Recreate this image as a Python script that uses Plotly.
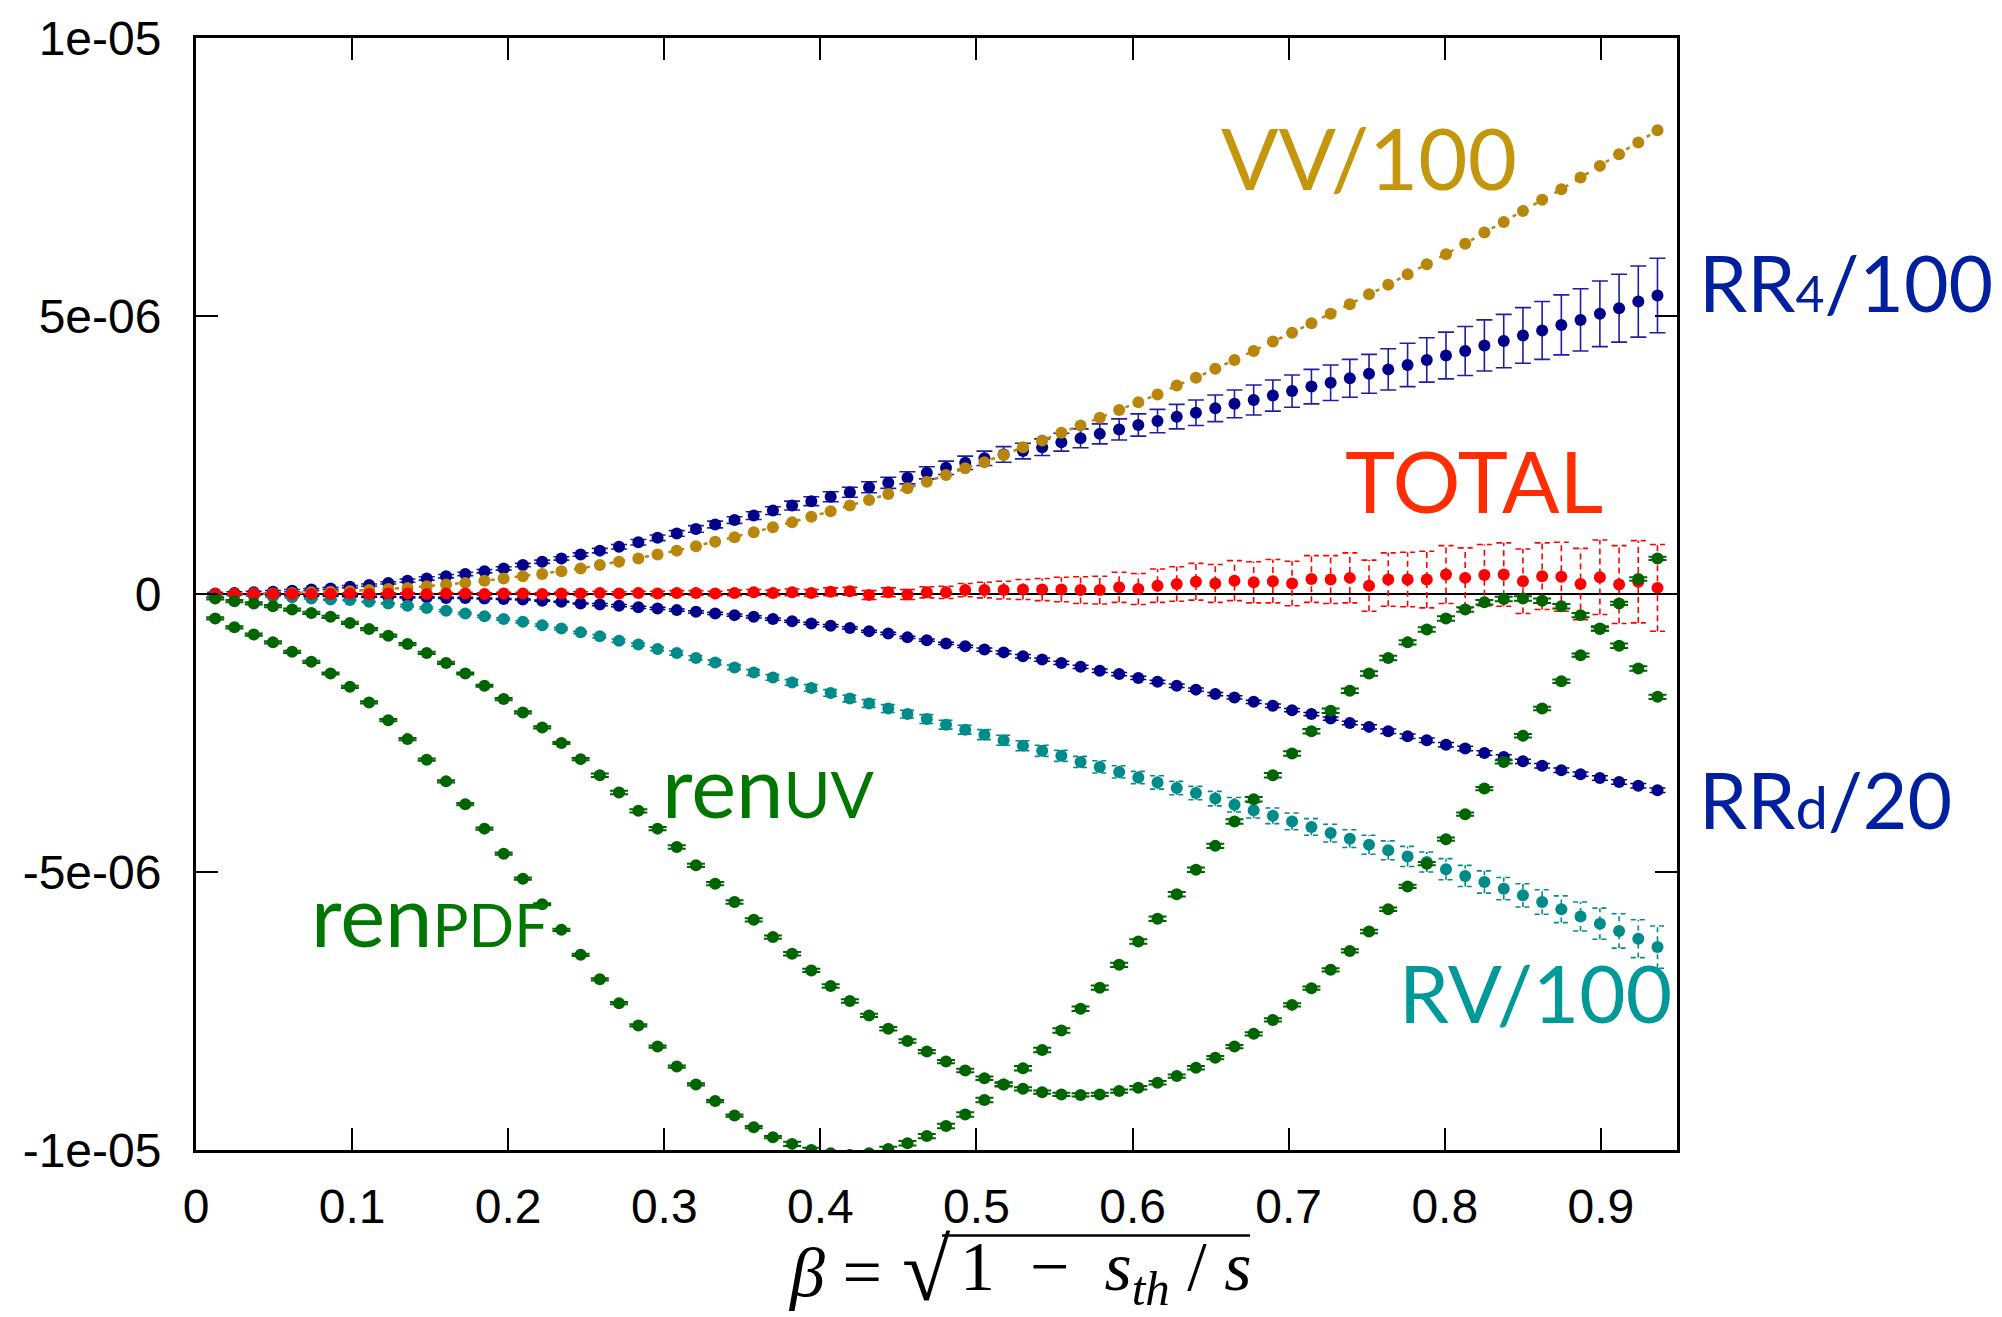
import plotly.graph_objects as go

# beta grid (x values of the points)
beta = [0.0123, 0.0246, 0.0370, 0.0493, 0.0616, 0.0739, 0.0862, 0.0986, 0.1109, 0.1232,
        0.1355, 0.1478, 0.1602, 0.1725, 0.1848, 0.1971, 0.2094, 0.2218, 0.2341, 0.2464,
        0.2587, 0.2710, 0.2834, 0.2957, 0.3080, 0.3203, 0.3326, 0.3450, 0.3573, 0.3696,
        0.3819, 0.3942, 0.4066, 0.4189, 0.4312, 0.4435, 0.4558, 0.4682, 0.4805, 0.4928,
        0.5051, 0.5174, 0.5298, 0.5421, 0.5544, 0.5667, 0.5790, 0.5914, 0.6037, 0.6160,
        0.6283, 0.6406, 0.6530, 0.6653, 0.6776, 0.6899, 0.7022, 0.7146, 0.7269, 0.7392,
        0.7515, 0.7638, 0.7762, 0.7885, 0.8008, 0.8131, 0.8254, 0.8378, 0.8501, 0.8624,
        0.8747, 0.8870, 0.8994, 0.9117, 0.9240, 0.9363]

# all series values in units of 1e-6
vv = [0.00, 0.00, 0.01, 0.01, 0.02, 0.03, 0.04, 0.05, 0.07, 0.09,
      0.11, 0.14, 0.17, 0.20, 0.24, 0.28, 0.32, 0.36, 0.41, 0.46,
      0.52, 0.58, 0.64, 0.71, 0.78, 0.86, 0.94, 1.02, 1.11, 1.20,
      1.29, 1.39, 1.49, 1.59, 1.69, 1.80, 1.90, 2.02, 2.14, 2.26,
      2.37, 2.50, 2.64, 2.76, 2.90, 3.03, 3.17, 3.31, 3.45, 3.59,
      3.75, 3.89, 4.05, 4.21, 4.37, 4.54, 4.70, 4.87, 5.04, 5.21,
      5.39, 5.56, 5.75, 5.93, 6.11, 6.30, 6.50, 6.69, 6.89, 7.09,
      7.28, 7.49, 7.70, 7.91, 8.12, 8.34]

rr4 = [0.01, 0.02, 0.03, 0.04, 0.06, 0.08, 0.10, 0.13, 0.16, 0.20,
       0.24, 0.28, 0.32, 0.36, 0.41, 0.46, 0.52, 0.58, 0.64, 0.71,
       0.78, 0.85, 0.93, 1.01, 1.09, 1.17, 1.25, 1.33, 1.41, 1.50,
       1.59, 1.67, 1.75, 1.83, 1.92, 2.00, 2.09, 2.18, 2.27, 2.36,
       2.44, 2.51, 2.57, 2.64, 2.73, 2.80, 2.88, 2.96, 3.04, 3.11,
       3.19, 3.26, 3.34, 3.42, 3.49, 3.57, 3.65, 3.73, 3.80, 3.88,
       3.96, 4.04, 4.12, 4.21, 4.29, 4.37, 4.47, 4.55, 4.65, 4.74,
       4.84, 4.93, 5.04, 5.14, 5.26, 5.37]
rr4_err = [0.02, 0.02, 0.02, 0.02, 0.02, 0.02, 0.02, 0.02, 0.02, 0.02,
           0.03, 0.03, 0.03, 0.03, 0.03, 0.03, 0.03, 0.03, 0.03, 0.03,
           0.04, 0.04, 0.05, 0.05, 0.05, 0.06, 0.06, 0.06, 0.07, 0.07,
           0.08, 0.08, 0.09, 0.09, 0.10, 0.10, 0.11, 0.11, 0.12, 0.12,
           0.13, 0.14, 0.14, 0.15, 0.16, 0.17, 0.18, 0.19, 0.20, 0.21,
           0.22, 0.23, 0.24, 0.25, 0.27, 0.28, 0.29, 0.31, 0.32, 0.34,
           0.35, 0.37, 0.39, 0.40, 0.42, 0.44, 0.46, 0.48, 0.50, 0.52,
           0.54, 0.56, 0.59, 0.61, 0.64, 0.67]

total = [0.00, 0.00, 0.00, 0.00, 0.00, 0.00, 0.00, 0.01, 0.00, 0.01,
         0.01, 0.00, 0.01, 0.01, 0.00, 0.01, 0.01, 0.00, 0.01, 0.01,
         0.02, 0.01, 0.02, 0.01, 0.02, 0.02, 0.01, 0.02, 0.03, 0.02,
         0.03, 0.02, 0.04, 0.05, -0.02, 0.03, -0.01, 0.03, 0.03, 0.07,
         0.07, 0.07, 0.08, 0.08, 0.08, 0.07, 0.07, 0.12, 0.09, 0.15,
         0.18, 0.22, 0.19, 0.24, 0.21, 0.23, 0.19, 0.27, 0.26, 0.29,
         0.15, 0.26, 0.26, 0.26, 0.35, 0.29, 0.34, 0.35, 0.23, 0.32,
         0.31, 0.18, 0.30, 0.17, 0.22, 0.11]
total_err = [0.01, 0.01, 0.01, 0.01, 0.01, 0.01, 0.01, 0.01, 0.01, 0.01,
             0.01, 0.01, 0.01, 0.02, 0.02, 0.02, 0.02, 0.02, 0.02, 0.03,
             0.03, 0.03, 0.03, 0.04, 0.04, 0.04, 0.04, 0.05, 0.05, 0.05,
             0.06, 0.06, 0.07, 0.07, 0.08, 0.08, 0.09, 0.10, 0.11, 0.12,
             0.14, 0.16, 0.18, 0.20, 0.22, 0.24, 0.25, 0.27, 0.28, 0.30,
             0.31, 0.33, 0.34, 0.36, 0.37, 0.39, 0.40, 0.42, 0.43, 0.45,
             0.46, 0.48, 0.49, 0.51, 0.52, 0.54, 0.55, 0.57, 0.58, 0.60,
             0.62, 0.64, 0.67, 0.70, 0.74, 0.78]

rrd = [0.00, -0.01, -0.01, -0.02, -0.02, -0.03, -0.03, -0.04, -0.05, -0.05,
       -0.06, -0.06, -0.07, -0.07, -0.08, -0.09, -0.10, -0.12, -0.14, -0.17,
       -0.19, -0.21, -0.24, -0.26, -0.29, -0.32, -0.35, -0.38, -0.41, -0.45,
       -0.49, -0.53, -0.57, -0.61, -0.67, -0.71, -0.78, -0.83, -0.89, -0.94,
       -1.00, -1.05, -1.12, -1.18, -1.24, -1.31, -1.38, -1.44, -1.51, -1.58,
       -1.65, -1.72, -1.80, -1.86, -1.94, -2.01, -2.09, -2.16, -2.24, -2.32,
       -2.39, -2.47, -2.56, -2.63, -2.71, -2.78, -2.86, -2.93, -3.01, -3.09,
       -3.17, -3.24, -3.31, -3.38, -3.45, -3.53]
rrd_err = [0.01, 0.01, 0.01, 0.01, 0.01, 0.01, 0.01, 0.01, 0.01, 0.01,
           0.01, 0.01, 0.01, 0.01, 0.01, 0.01, 0.01, 0.01, 0.01, 0.01,
           0.02, 0.02, 0.02, 0.02, 0.02, 0.02, 0.02, 0.02, 0.02, 0.02,
           0.02, 0.02, 0.02, 0.02, 0.02, 0.02, 0.02, 0.02, 0.02, 0.02,
           0.03, 0.03, 0.03, 0.03, 0.03, 0.03, 0.03, 0.03, 0.03, 0.03,
           0.03, 0.03, 0.03, 0.03, 0.03, 0.03, 0.03, 0.03, 0.03, 0.03,
           0.04, 0.04, 0.04, 0.04, 0.04, 0.04, 0.04, 0.04, 0.04, 0.04,
           0.04, 0.04, 0.04, 0.04, 0.04, 0.04]

rv = [-0.01, -0.02, -0.03, -0.05, -0.06, -0.08, -0.10, -0.11, -0.14, -0.17,
      -0.21, -0.25, -0.30, -0.35, -0.40, -0.45, -0.50, -0.56, -0.62, -0.69,
      -0.76, -0.84, -0.91, -0.99, -1.06, -1.15, -1.23, -1.32, -1.41, -1.50,
      -1.59, -1.69, -1.78, -1.88, -1.97, -2.06, -2.16, -2.25, -2.35, -2.44,
      -2.53, -2.63, -2.73, -2.82, -2.91, -3.02, -3.11, -3.20, -3.30, -3.39,
      -3.49, -3.58, -3.68, -3.79, -3.89, -3.99, -4.09, -4.19, -4.30, -4.40,
      -4.51, -4.61, -4.72, -4.82, -4.95, -5.07, -5.18, -5.30, -5.42, -5.54,
      -5.67, -5.80, -5.93, -6.06, -6.20, -6.35]
rv_err = [0.01, 0.01, 0.01, 0.01, 0.01, 0.01, 0.01, 0.01, 0.01, 0.01,
          0.02, 0.02, 0.02, 0.02, 0.02, 0.02, 0.02, 0.02, 0.02, 0.02,
          0.03, 0.03, 0.03, 0.03, 0.04, 0.04, 0.04, 0.04, 0.05, 0.05,
          0.05, 0.06, 0.06, 0.06, 0.07, 0.07, 0.07, 0.08, 0.08, 0.08,
          0.09, 0.09, 0.09, 0.10, 0.10, 0.10, 0.11, 0.11, 0.11, 0.12,
          0.12, 0.12, 0.13, 0.13, 0.14, 0.14, 0.15, 0.15, 0.16, 0.16,
          0.17, 0.17, 0.18, 0.18, 0.19, 0.19, 0.20, 0.20, 0.21, 0.22,
          0.24, 0.26, 0.28, 0.31, 0.34, 0.38]

ren_uv = [-0.08, -0.13, -0.17, -0.22, -0.28, -0.34, -0.41, -0.52, -0.63, -0.75,
          -0.90, -1.06, -1.24, -1.43, -1.65, -1.89, -2.13, -2.40, -2.68, -2.97,
          -3.26, -3.57, -3.90, -4.22, -4.55, -4.88, -5.21, -5.54, -5.86, -6.17,
          -6.47, -6.77, -7.05, -7.32, -7.58, -7.82, -8.04, -8.23, -8.41, -8.57,
          -8.71, -8.82, -8.90, -8.96, -9.00, -9.01, -9.00, -8.94, -8.88, -8.79,
          -8.67, -8.52, -8.34, -8.14, -7.91, -7.66, -7.39, -7.09, -6.76, -6.42,
          -6.07, -5.67, -5.26, -4.85, -4.41, -3.96, -3.50, -3.02, -2.55, -2.06,
          -1.57, -1.10, -0.63, -0.17, 0.27, 0.64]
ren_uv_err = [0.02, 0.02, 0.02, 0.02, 0.02, 0.02, 0.02, 0.02, 0.02, 0.02,
              0.02, 0.02, 0.02, 0.02, 0.02, 0.02, 0.02, 0.02, 0.02, 0.02,
              0.03, 0.03, 0.03, 0.03, 0.03, 0.03, 0.03, 0.03, 0.03, 0.03,
              0.03, 0.03, 0.03, 0.03, 0.03, 0.03, 0.03, 0.03, 0.03, 0.03,
              0.03, 0.03, 0.03, 0.03, 0.03, 0.03, 0.03, 0.03, 0.03, 0.03,
              0.03, 0.03, 0.03, 0.03, 0.03, 0.03, 0.03, 0.03, 0.03, 0.03,
              0.03, 0.03, 0.03, 0.03, 0.03, 0.03, 0.03, 0.03, 0.03, 0.03,
              0.03, 0.03, 0.03, 0.03, 0.03, 0.03]

ren_pdf = [-0.44, -0.60, -0.73, -0.87, -1.04, -1.22, -1.43, -1.67, -1.95, -2.27,
           -2.61, -2.98, -3.37, -3.78, -4.22, -4.67, -5.12, -5.58, -6.04, -6.49,
           -6.93, -7.36, -7.76, -8.14, -8.50, -8.82, -9.12, -9.38, -9.59, -9.77,
           -9.89, -10.00, -10.06, -10.09, -10.06, -9.98, -9.88, -9.75, -9.57, -9.36,
           -9.10, -8.82, -8.53, -8.20, -7.85, -7.46, -7.08, -6.67, -6.25, -5.84,
           -5.40, -4.96, -4.53, -4.09, -3.69, -3.26, -2.87, -2.47, -2.10, -1.74,
           -1.43, -1.15, -0.87, -0.64, -0.44, -0.28, -0.15, -0.09, -0.08, -0.12,
           -0.22, -0.38, -0.62, -0.93, -1.34, -1.85]
ren_pdf_err = [0.02, 0.02, 0.02, 0.02, 0.02, 0.02, 0.02, 0.02, 0.02, 0.02,
               0.02, 0.02, 0.02, 0.02, 0.02, 0.02, 0.02, 0.02, 0.02, 0.02,
               0.02, 0.02, 0.02, 0.02, 0.02, 0.02, 0.02, 0.02, 0.02, 0.02,
               0.04, 0.04, 0.04, 0.04, 0.04, 0.04, 0.04, 0.04, 0.04, 0.04,
               0.04, 0.04, 0.04, 0.04, 0.04, 0.04, 0.04, 0.04, 0.04, 0.04,
               0.04, 0.04, 0.04, 0.04, 0.04, 0.04, 0.04, 0.04, 0.04, 0.04,
               0.04, 0.04, 0.04, 0.04, 0.04, 0.04, 0.04, 0.04, 0.04, 0.04,
               0.04, 0.04, 0.04, 0.04, 0.04, 0.04]

x_ticks = [0, 0.1, 0.2, 0.3, 0.4, 0.5, 0.6, 0.7, 0.8, 0.9]
x_tick_text = ["0", "0.1", "0.2", "0.3", "0.4", "0.5", "0.6", "0.7", "0.8", "0.9"]
y_ticks = [-1e-05, -5e-06, 0, 5e-06, 1e-05]
y_tick_text = ["-1e-05", "-5e-06", "0", "5e-06", "1e-05"]

E = 1e-6


def sc(v):
    return [a * E for a in v]


def dashed_bars(x, y, e, cap):
    xs, ys = [], []
    for xi, yi, ei in zip(x, y, e):
        lo, hi = (yi - ei) * E, (yi + ei) * E
        xs += [xi, xi, None, xi - cap, xi + cap, None, xi - cap, xi + cap, None]
        ys += [lo, hi, None, lo, lo, None, hi, hi, None]
    return xs, ys


GOLD = "#B8860B"
NAVY = "#00008B"
RED = "#FF0000"
TEAL = "#008B8B"
GREEN = "#006400"
MS = 12

fig = go.Figure()

# RR4/100
fig.add_trace(go.Scatter(
    x=beta, y=sc(rr4), mode="markers",
    marker=dict(color=NAVY, size=MS),
    error_y=dict(type="data", array=sc(rr4_err), color="#1E1EA8", thickness=1.6, width=8),
    showlegend=False))

# VV/100
fig.add_trace(go.Scatter(
    x=beta, y=sc(vv), mode="lines+markers",
    line=dict(color=GOLD, width=2.5, dash="4px,8px"),
    marker=dict(color=GOLD, size=MS),
    showlegend=False))

# RRd/20
fig.add_trace(go.Scatter(
    x=beta, y=sc(rrd), mode="markers",
    marker=dict(color=NAVY, size=MS),
    error_y=dict(type="data", array=sc(rrd_err), color=NAVY, thickness=1.5, width=8),
    showlegend=False))

# RV/100 (dashed error bars)
bx, by = dashed_bars(beta, rv, rv_err, 0.0048)
fig.add_trace(go.Scatter(x=bx, y=by, mode="lines",
                         line=dict(color=TEAL, width=1.6, dash="5px,4px"),
                         hoverinfo="skip", showlegend=False))
fig.add_trace(go.Scatter(
    x=beta, y=sc(rv), mode="markers",
    marker=dict(color=TEAL, size=MS), showlegend=False))

# TOTAL (dashed error bars)
bx, by = dashed_bars(beta, total, total_err, 0.0048)
fig.add_trace(go.Scatter(x=bx, y=by, mode="lines",
                         line=dict(color=RED, width=1.6, dash="6px,4px"),
                         hoverinfo="skip", showlegend=False))
fig.add_trace(go.Scatter(
    x=beta, y=sc(total), mode="markers",
    marker=dict(color=RED, size=MS), showlegend=False))

# ren_UV
fig.add_trace(go.Scatter(
    x=beta, y=sc(ren_uv), mode="markers",
    marker=dict(color=GREEN, size=MS),
    error_y=dict(type="data", array=sc(ren_uv_err), color=GREEN, thickness=2, width=9),
    showlegend=False))

# ren_PDF
fig.add_trace(go.Scatter(
    x=beta, y=sc(ren_pdf), mode="markers",
    marker=dict(color=GREEN, size=MS),
    error_y=dict(type="data", array=sc(ren_pdf_err), color=GREEN, thickness=2, width=9),
    showlegend=False))

# curve labels
LBL = "Lato"
FS = 85


def small(t, size):
    return '<span style="font-size:%dpx">%s</span>' % (size, t)


data_labels = [
    dict(text="VV/100", x=0.7515, y=7.86e-6, color="#C4960C", xanchor="center", size=FS),
    dict(text="TOTAL", x=0.819, y=2.05e-6, color="#FF2D00", xanchor="center", size=FS),
    dict(text="RV/100", x=0.8584, y=-7.16e-6, color="#009999", xanchor="center", size=80),
    dict(text="ren" + small("UV", 64), x=0.2972, y=-3.44e-6, color="#007700",
         xanchor="left", size=FS),
    dict(text="ren" + small("PDF", 60), x=0.0725, y=-5.75e-6, color="#007700",
         xanchor="left", size=FS),
]
for a in data_labels:
    fig.add_annotation(x=a["x"], y=a["y"], xref="x", yref="y", text=a["text"],
                       showarrow=False, xanchor=a["xanchor"], yanchor="middle",
                       font=dict(family=LBL, size=a["size"], color=a["color"]))

# labels outside the frame (paper coordinates)
side_labels = [
    dict(text="RR" + small("4", 50) + "/100", y=(1150 - 277) / 1118),
    dict(text="RR" + small("d", 58) + "/20", y=(1150 - 797) / 1118),
]
for a in side_labels:
    fig.add_annotation(x=(1697 - 196) / 1481, y=a["y"], xref="paper", yref="paper",
                       text=a["text"], showarrow=False, xanchor="left", yanchor="middle",
                       font=dict(family=LBL, size=77, color="#00209F"))

# x-axis title (math-like): beta = sqrt(1 - s_th/s)
MATH = "Liberation Serif"
TFS = 70
TY = (1150 - 1273) / 1118
fig.add_annotation(x=(884 - 196) / 1481, y=TY, xref="paper", yref="paper",
                   text="<i>β</i>&nbsp;=", showarrow=False, xanchor="right",
                   yanchor="middle", font=dict(family=MATH, size=TFS, color="black"))
fig.add_annotation(x=(926 - 196) / 1481, y=(1150 - 1271) / 1118, xref="paper", yref="paper",
                   text="√", showarrow=False, xanchor="center", yanchor="middle",
                   font=dict(family=MATH, size=88, color="black"))
fig.add_annotation(x=(958 - 196) / 1481, y=TY, xref="paper", yref="paper",
                   text="1&nbsp;&nbsp;−&nbsp;&nbsp;<i>s</i><sub><i>th</i></sub>&nbsp;/&nbsp;<i>s</i>",
                   showarrow=False, xanchor="left", yanchor="middle",
                   font=dict(family=MATH, size=TFS, color="black"))
fig.add_shape(type="line", xref="paper", yref="paper",
              x0=(942 - 196) / 1481, x1=(1250 - 196) / 1481,
              y0=(1150 - 1236) / 1118, y1=(1150 - 1236) / 1118,
              line=dict(color="black", width=2.5))

axis_common = dict(
    showgrid=False, showline=True, linecolor="black", linewidth=3, mirror="ticks",
    ticks="inside", ticklen=22, tickwidth=2, tickcolor="black",
    tickfont=dict(family="Liberation Sans", size=48, color="black"),
)

fig.update_xaxes(range=[0, 0.9488], tickvals=x_ticks, ticktext=x_tick_text,
                 zeroline=False, ticklabelstandoff=12, **axis_common)
fig.update_yaxes(range=[-1e-05, 1e-05], tickvals=y_ticks, ticktext=y_tick_text,
                 zeroline=True, zerolinecolor="black", zerolinewidth=2,
                 ticklabelstandoff=22, **axis_common)

fig.update_layout(
    width=2002, height=1317,
    margin=dict(l=196, r=325, t=32, b=167),
    paper_bgcolor="white", plot_bgcolor="white",
    showlegend=False,
)

fig.write_html("out.html", config={"displayModeBar": False},
               post_script="document.body.style.margin='0px';"
                           "document.body.style.overflow='hidden';")
